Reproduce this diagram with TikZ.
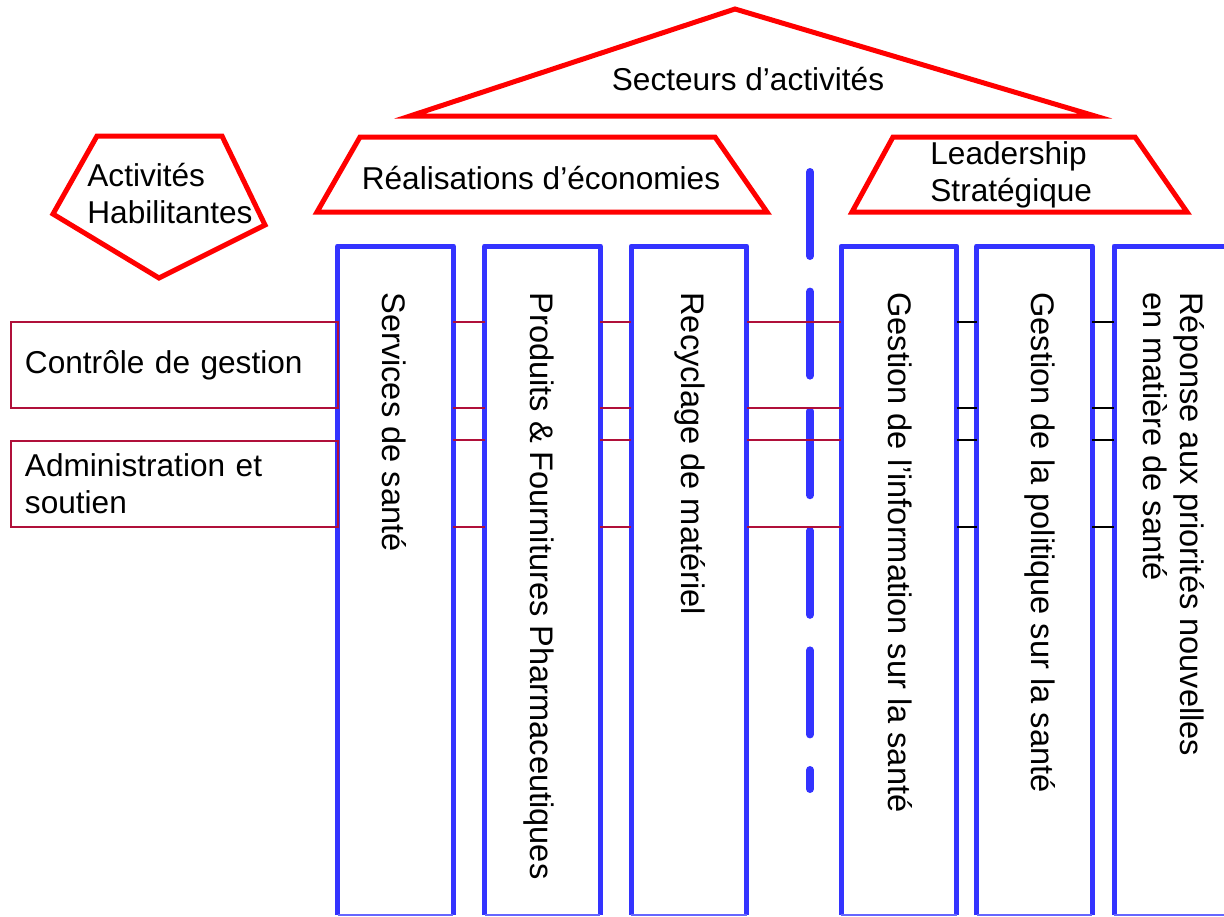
\documentclass[tikz,border=0pt]{standalone}
\usepackage{fontspec}
\setmainfont{Liberation Sans}
\usetikzlibrary{positioning}
\definecolor{pillarblue}{HTML}{3333FF}
\definecolor{roofred}{HTML}{FF0000}
\definecolor{linkred}{HTML}{B0103A}
\tikzstyle{roof} = [draw=roofred, line width=2.5pt, line join=miter]
\tikzstyle{pillar} = [draw=pillarblue, line width=2.5pt, line join=round]
\tikzstyle{pillarbase} = [draw=pillarblue!75, line width=0.6pt]
\tikzstyle{colbox} = [minimum width=57.75pt, minimum height=334.5pt, inner sep=0pt, outer sep=0pt]
\tikzstyle{link} = [draw=linkred, line width=0.6pt]
\tikzstyle{blacklink} = [draw=black, line width=0.6pt]
\tikzstyle{divider} = [draw=pillarblue, line width=4pt, line cap=round, dash pattern=on 42pt off 17.8pt]
\tikzstyle{txt} = [inner sep=0pt, align=left, font=\fontsize{15.8}{18.5}\selectfont]
\tikzstyle{vtxt} = [txt, rotate=-90, anchor=west, font=\fontsize{16.3}{18.5}\selectfont]
\tikzstyle{sidebox} = [txt, draw=linkred, line width=0.6pt, inner xsep=7pt, text width=149.5pt, minimum height=43pt]

\begin{document}
\begin{tikzpicture}[x=0.5pt, y=-0.5pt]
\useasboundingbox (0,0) rectangle (1224,916);

                    % Roof
                    \draw[roof] (410,116) -- (735,9) -- (1095,116) -- cycle;
                    \node[txt] (secteurs) at (748,79) {Secteurs d’activités};

                    % Architraves
                    \draw[roof] (360,137) -- (715,137) -- (767,212) -- (317,212) -- cycle;
                    \node[txt] (economies) at (541,178) {Réalisations d’économies};
                    \draw[roof] (893,137) -- (1135,137) -- (1187,212) -- (852,212) -- cycle;
                    \node[txt, anchor=west] (leadership) at (930,175) {Leadership\\Stratégique};

                    % Enabling activities
                    \draw[roof] (97,136) -- (222,136) -- (265,225) -- (159,278) -- (53,214) -- cycle;
                    \node[txt, anchor=west] (habilitantes) at (87,194) {Activités\\Habilitantes};

                    % Pillars
                    \node[colbox] (c1) at (395.5,580.5) {};
                    \node[colbox] (c2) at (542.5,580.5) {};
                    \node[colbox] (c3) at (689,580.5) {};
                    \node[colbox] (c4) at (899,580.5) {};
                    \node[colbox] (c5) at (1034.5,580.5) {};
                    \node[colbox] (c6) at (1171.75,580.5) {};
                    \foreach \c in {c1,c2,c3,c4,c5,c6} {
                        \draw[pillar] (\c.south west) -- (\c.north west) -- (\c.north east) -- (\c.south east);
                        \draw[pillarbase] (\c.south west) -- (\c.south east);
                    }

                    % Pillar labels
                    \node[vtxt] (sante) at (394,292) {Services de santé};
                    \node[vtxt] (produits) at (539,292) {Produits \& Fournitures Pharmaceutiques};
                    \node[vtxt] (recyclage) at (690,292) {Recyclage de matériel};
                    \node[vtxt] (information) at (900,292) {Gestion de l’information sur la santé};
                    \node[vtxt] (politique) at (1040,292) {Gestion de la politique sur la santé};
                    \node[vtxt] (priorites) at (1174,292) {Réponse aux priorités nouvelles\\en matière de santé};

                    % Divider
                    \coordinate (dtop) at (810,172);
                    \coordinate (dbot) at (810,789);
                    \draw[divider] (dtop) -- (dbot);

                    % Side boxes
                    \node[sidebox] (controle) at (174.5,365) {Contrôle de gestion};
                    \node[sidebox] (admin) at (174.5,484) {Administration et\\soutien};

                    % Rows
                    \coordinate (r1) at (0,322);
                    \coordinate (r2) at (0,408);
                    \coordinate (r3) at (0,440);
                    \coordinate (r4) at (0,527);
                    \draw[link] (c1.east |- r1) -- (c2.west |- r1) (c2.east |- r1) -- (c3.west |- r1) (c3.east |- r1) -- (c4.west |- r1);
                    \draw[link] (c1.east |- r2) -- (c2.west |- r2) (c2.east |- r2) -- (c3.west |- r2) (c3.east |- r2) -- (c4.west |- r2);
                    \draw[link] (c1.east |- r3) -- (c2.west |- r3) (c2.east |- r3) -- (c3.west |- r3) (c3.east |- r3) -- (c4.west |- r3);
                    \draw[link] (c1.east |- r4) -- (c2.west |- r4) (c2.east |- r4) -- (c3.west |- r4) (c3.east |- r4) -- (c4.west |- r4);
                    \draw[blacklink] (c4.east |- r1) -- (c5.west |- r1) (c5.east |- r1) -- (c6.west |- r1);
                    \draw[blacklink] (c4.east |- r2) -- (c5.west |- r2) (c5.east |- r2) -- (c6.west |- r2);
                    \draw[blacklink] (c4.east |- r3) -- (c5.west |- r3) (c5.east |- r3) -- (c6.west |- r3);
                    \draw[blacklink] (c4.east |- r4) -- (c5.west |- r4) (c5.east |- r4) -- (c6.west |- r4);

\end{tikzpicture}
\end{document}
